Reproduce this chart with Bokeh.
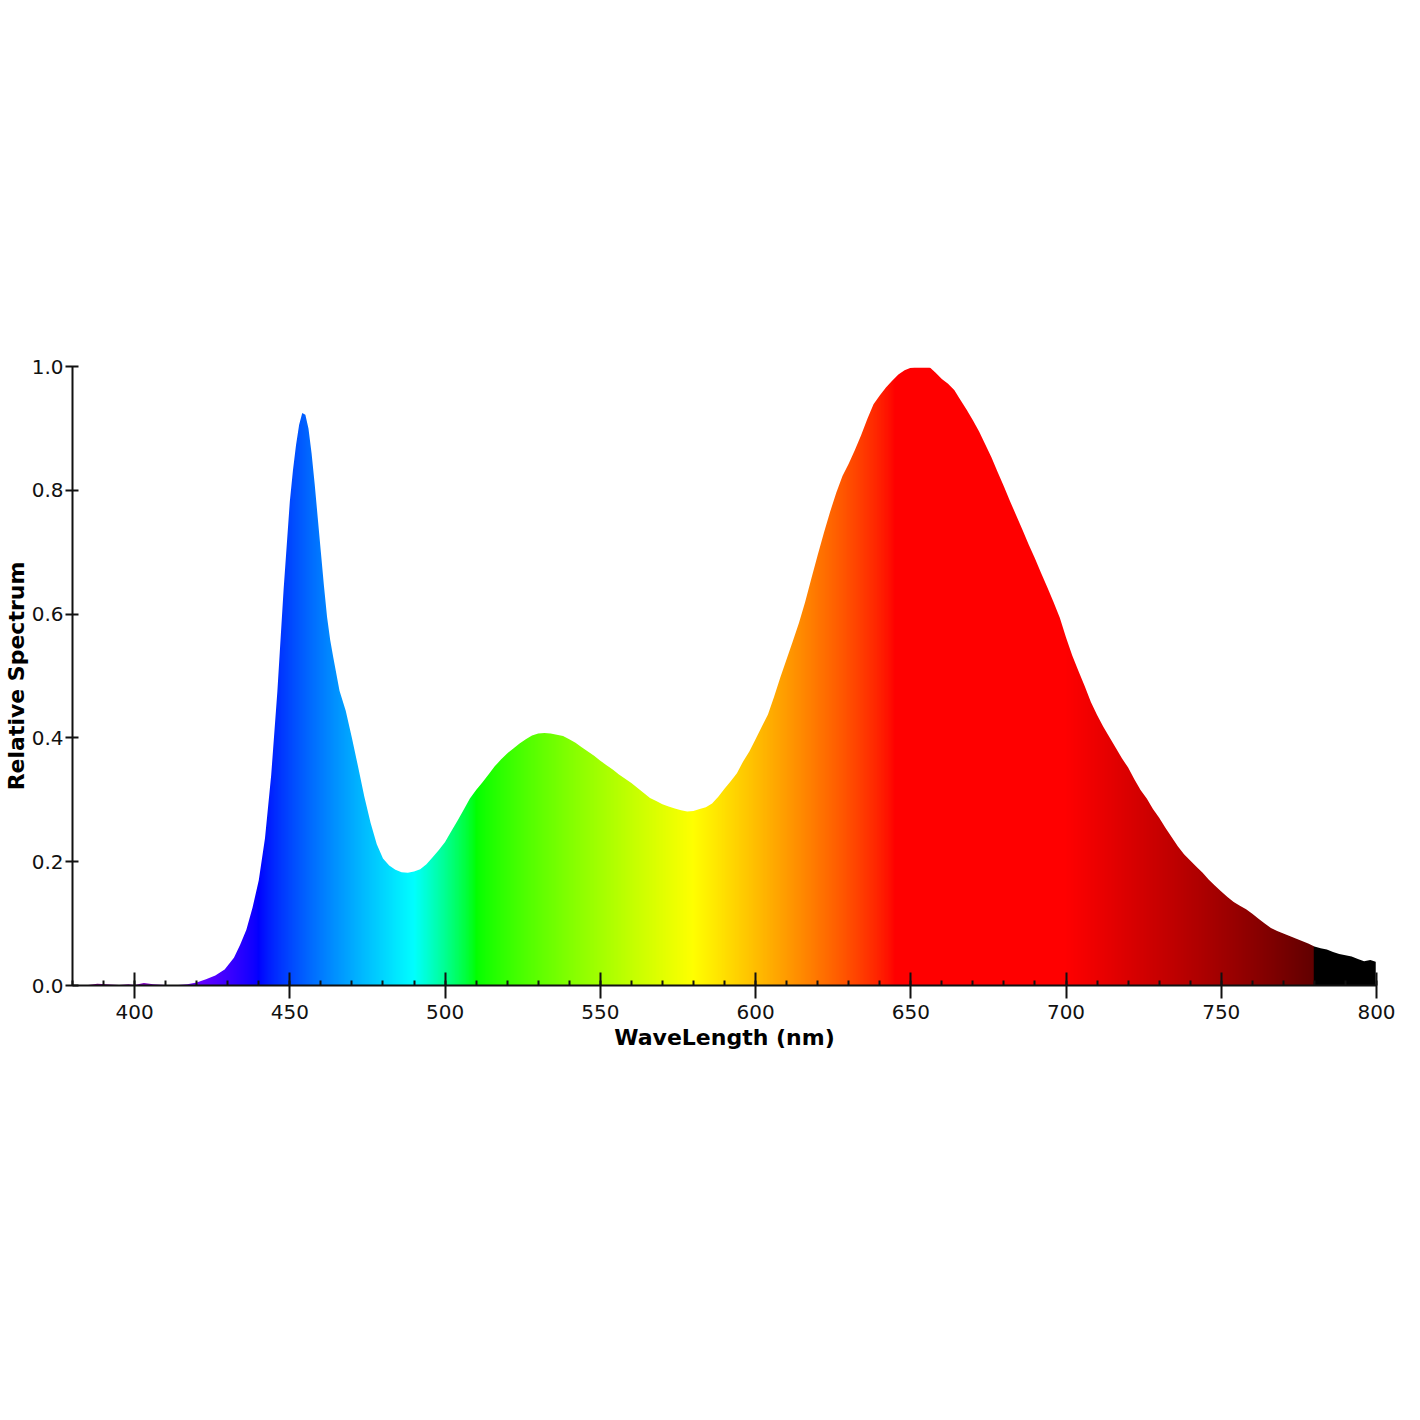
import numpy as np
from bokeh.plotting import figure
from bokeh.models import Range1d, FixedTicker, PrintfTickFormatter, Spacer
from bokeh.layouts import column
from bokeh.embed import file_html
from bokeh.resources import INLINE

# ---- data ----
wavelength = [380, 382, 385, 388, 391, 395, 398, 400, 403, 406, 410, 414, 417, 420,
              423, 426, 429, 432, 434, 436, 438, 440, 442, 444, 446, 448, 450, 451,
              452, 453, 454, 455, 456, 457, 458, 459, 460, 461, 462, 463, 464, 466,
              468, 470, 472, 474, 476, 478, 480, 482, 484, 486, 488, 490, 492, 494,
              496, 498, 500, 502, 504, 506, 508, 510, 512, 514, 516, 518, 520, 522,
              524, 526, 528, 530, 532, 534, 536, 538, 540, 542, 544, 546, 548, 550,
              552, 554, 556, 558, 560, 562, 564, 566, 568, 570, 572, 574, 576, 578,
              580, 582, 584, 586, 588, 590, 592, 594, 596, 598, 600, 602, 604, 606,
              608, 610, 612, 614, 616, 618, 620, 622, 624, 626, 628, 630, 632, 634,
              636, 638, 640, 642, 644, 646, 648, 650, 652, 654, 656, 658, 660, 662,
              664, 666, 668, 670, 672, 674, 676, 678, 680, 682, 684, 686, 688, 690,
              692, 694, 696, 698, 700, 702, 704, 706, 708, 710, 712, 714, 716, 718,
              720, 722, 724, 726, 728, 730, 732, 734, 736, 738, 740, 742, 744, 746,
              748, 750, 752, 754, 756, 758, 760, 762, 764, 766, 768, 770, 772, 774,
              776, 778, 780, 782, 784, 786, 788, 790, 792, 794, 796, 798, 800]
relative = [0.0, 0.0, 0.001, 0.003, 0.002, 0.001, 0.002, 0.001, 0.004, 0.002, 0.001, 0.001, 0.002, 0.005,
            0.010, 0.016, 0.026, 0.045, 0.066, 0.090, 0.126, 0.170, 0.238, 0.340, 0.476, 0.640, 0.782, 0.832,
            0.873, 0.906, 0.925, 0.922, 0.900, 0.860, 0.810, 0.755, 0.700, 0.645, 0.595, 0.558, 0.530, 0.476,
            0.444, 0.400, 0.353, 0.305, 0.263, 0.228, 0.205, 0.194, 0.187, 0.183, 0.182, 0.184, 0.188, 0.196,
            0.207, 0.219, 0.232, 0.249, 0.266, 0.284, 0.302, 0.316, 0.328, 0.341, 0.354, 0.365, 0.375, 0.383,
            0.391, 0.398, 0.404, 0.407, 0.408, 0.407, 0.405, 0.403, 0.398, 0.392, 0.385, 0.378, 0.371, 0.363,
            0.356, 0.349, 0.341, 0.334, 0.327, 0.319, 0.311, 0.303, 0.298, 0.293, 0.289, 0.286, 0.283, 0.281,
            0.282, 0.285, 0.288, 0.294, 0.305, 0.318, 0.330, 0.343, 0.362, 0.378, 0.398, 0.418, 0.438, 0.467,
            0.498, 0.527, 0.556, 0.586, 0.620, 0.658, 0.695, 0.731, 0.765, 0.796, 0.823, 0.843, 0.865, 0.889,
            0.915, 0.939, 0.953, 0.966, 0.977, 0.987, 0.994, 0.998, 1.000, 1.000, 0.999, 0.990, 0.980, 0.972,
            0.962, 0.946, 0.930, 0.913, 0.895, 0.874, 0.853, 0.829, 0.806, 0.782, 0.759, 0.736, 0.712, 0.690,
            0.666, 0.643, 0.619, 0.594, 0.562, 0.533, 0.508, 0.484, 0.458, 0.437, 0.418, 0.401, 0.384, 0.367,
            0.352, 0.333, 0.316, 0.302, 0.285, 0.271, 0.255, 0.240, 0.225, 0.212, 0.202, 0.192, 0.182, 0.171,
            0.161, 0.152, 0.143, 0.135, 0.129, 0.123, 0.116, 0.108, 0.100, 0.093, 0.088, 0.084, 0.080, 0.076,
            0.072, 0.068, 0.063, 0.060, 0.058, 0.054, 0.051, 0.049, 0.047, 0.043, 0.039, 0.041, 0.038]

x_ticks = [400, 450, 500, 550, 600, 650, 700, 750, 800]
y_ticks = [0.0, 0.2, 0.4, 0.6, 0.8, 1.0]
x_label = "WaveLength (nm)"
y_label = "Relative Spectrum"

X_MIN, X_MAX = 380, 800


def wl_to_rgb(w, gamma=0.8):
    if 380 <= w < 440:
        r, g, b = -(w - 440) / 60.0, 0.0, 1.0
    elif 440 <= w < 490:
        r, g, b = 0.0, (w - 440) / 50.0, 1.0
    elif 490 <= w < 510:
        r, g, b = 0.0, 1.0, -(w - 510) / 20.0
    elif 510 <= w < 580:
        r, g, b = (w - 510) / 70.0, 1.0, 0.0
    elif 580 <= w < 645:
        r, g, b = 1.0, -(w - 645) / 65.0, 0.0
    elif 645 <= w <= 780:
        r, g, b = 1.0, 0.0, 0.0
    else:
        r, g, b = 0.0, 0.0, 0.0
    if 380 <= w < 420:
        f = 0.3 + 0.7 * (w - 380) / 40.0
    elif 420 <= w <= 700:
        f = 1.0
    elif 700 < w <= 780:
        f = 0.3 + 0.7 * (780 - w) / 80.0
    else:
        f = 0.0
    def c(v):
        return int(round(255 * (v * f) ** gamma)) if v > 0 and f > 0 else 0
    return c(r), c(g), c(b)


# spectrum colour strip (background gradient)
N = 1680
img = np.empty((1, N), dtype=np.uint32)
view = img.view(dtype=np.uint8).reshape((1, N, 4))
for i in range(N):
    w = X_MIN + (i + 0.5) * (X_MAX - X_MIN) / N
    r, g, b = wl_to_rgb(w)
    view[0, i, 0] = r
    view[0, i, 1] = g
    view[0, i, 2] = b
    view[0, i, 3] = 255

p = figure(frame_width=1304, frame_height=619,
           x_range=Range1d(X_MIN, X_MAX), y_range=Range1d(0, 1.0),
           output_backend="svg", toolbar_location=None,
           min_border_left=66, min_border_right=34,
           min_border_top=15, min_border_bottom=80,
           background_fill_color="white", border_fill_color="white")

p.image_rgba(image=[img], x=X_MIN, y=0, dw=X_MAX - X_MIN - 0.25, dh=0.998)

# white mask above the spectrum curve
mask_x = list(wavelength) + [X_MAX + 10, X_MAX + 10, X_MIN - 10, X_MIN - 10]
mask_y = list(relative) + [relative[-1], 1.2, 1.2, relative[0]]
p.patch(x=mask_x, y=mask_y, fill_color="white", line_color=None)

p.xgrid.grid_line_color = None
p.ygrid.grid_line_color = None
p.outline_line_color = None

p.xaxis.ticker = FixedTicker(ticks=x_ticks, minor_ticks=list(range(X_MIN, X_MAX + 1, 10)))
p.yaxis.ticker = FixedTicker(ticks=y_ticks, minor_ticks=[])
p.yaxis.formatter = PrintfTickFormatter(format="%.1f")

for ax in (p.xaxis[0], p.yaxis[0]):
    ax.axis_line_color = "#111111"
    ax.axis_line_width = 2
    ax.major_tick_line_color = "#111111"
    ax.major_tick_line_width = 2
    ax.minor_tick_line_color = "#111111"
    ax.minor_tick_line_width = 2
    ax.major_label_text_font = "DejaVu Sans"
    ax.major_label_text_font_size = "20px"
    ax.major_label_text_color = "#111111"
    ax.axis_label_text_font = "DejaVu Sans"
    ax.axis_label_text_font_size = "22px"
    ax.axis_label_text_font_style = "bold"
    ax.axis_label_text_color = "#000000"

p.xaxis.axis_label = x_label
p.yaxis.axis_label = y_label

p.xaxis.major_tick_in = 13
p.xaxis.major_tick_out = 13
p.xaxis.minor_tick_in = 5
p.xaxis.minor_tick_out = 0
p.xaxis.major_label_standoff = 6
p.xaxis.axis_label_standoff = 3

p.yaxis.major_tick_in = 6
p.yaxis.major_tick_out = 7
p.yaxis.minor_tick_in = 0
p.yaxis.minor_tick_out = 0
p.yaxis.major_label_standoff = 2
p.yaxis.axis_label_standoff = 0

layout = column(Spacer(height=351, width=10), p, spacing=0)

open("out.html", "w").write(file_html(layout, INLINE))
